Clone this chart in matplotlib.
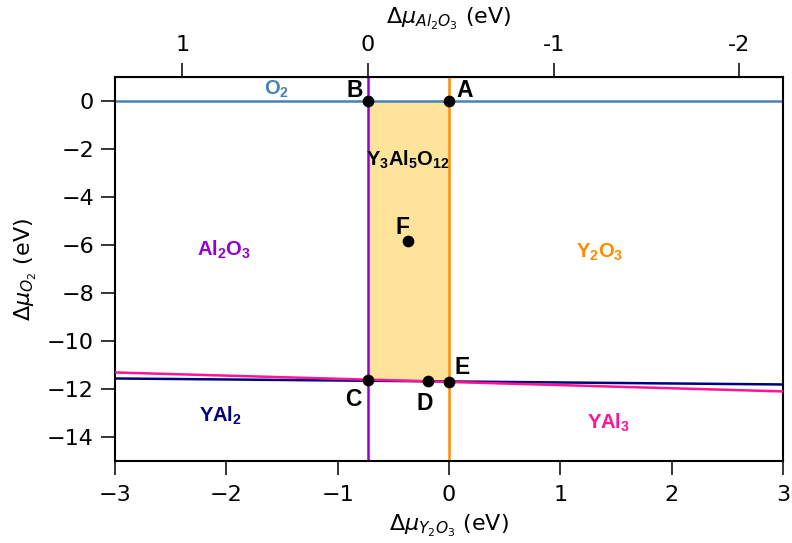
import numpy as np
import matplotlib
matplotlib.use("Agg")
import matplotlib.pyplot as plt

plt.rcParams['mathtext.fontset'] = 'custom'
plt.rcParams['mathtext.rm'] = 'Liberation Sans:bold'
plt.rcParams['mathtext.it'] = 'Liberation Sans:bold'
plt.rcParams['mathtext.bf'] = 'Liberation Sans:bold'

# ---- data ----
x_line = [-3.0, 3.0]
o2_line = [0.0, 0.0]
yal2_line = [-11.56, -11.81]
yal3_line = [-11.31, -12.10]
x_al2o3 = -0.727          # Al2O3 boundary (vertical)
x_y2o3 = 0.0              # Y2O3 boundary (vertical)
y_vert = [-15.0, 1.0]

pt_names = ['A', 'B', 'C', 'D', 'E', 'F']
pt_x = [0.0, -0.727, -0.727, -0.19, 0.0, -0.37]
pt_y = [0.0, 0.0, -11.62, -11.67, -11.70, -5.85]
pt_lab_x = [0.14, -0.85, -0.86, -0.22, 0.12, -0.42]
pt_lab_y = [0.45, 0.45, -12.45, -12.6, -11.1, -5.25]

region_x = [-0.727, 0.0, 0.0, -0.19, -0.727]
region_y = [0.0, 0.0, -11.70, -11.67, -11.62]

phase_labels = ['O$_2$', 'Al$_2$O$_3$', 'Y$_2$O$_3$', 'Y$_3$Al$_5$O$_{12}$', 'YAl$_2$', 'YAl$_3$']
phase_x = [-1.55, -2.02, 1.35, -0.37, -2.05, 1.43]
phase_y = [0.5, -6.2, -6.3, -2.45, -13.1, -13.4]
phase_col = ['#4682B4', '#9400D3', '#FF8C00', 'black', '#000080', '#FF1493']

xticks = [-3, -2, -1, 0, 1, 2, 3]
yticks = [0, -2, -4, -6, -8, -10, -12, -14]
top_ticks = [1, 0, -1, -2]

fig = plt.figure(figsize=(7.92, 5.43), dpi=100)
ax = fig.add_axes([0.145, 0.151, 0.8436, 0.707])

ax.fill(region_x, region_y, color='#FEE49B', zorder=1, lw=0)
ax.plot(x_line, o2_line, color='#4682B4', lw=1.8, zorder=2)
ax.plot([x_al2o3, x_al2o3], y_vert, color='#9400D3', lw=1.8, zorder=2)
ax.plot([x_y2o3, x_y2o3], y_vert, color='#FF8C00', lw=1.8, zorder=2)
ax.plot(x_line, yal2_line, color='#000080', lw=1.8, zorder=2)
ax.plot(x_line, yal3_line, color='#FF1493', lw=1.8, zorder=3)
ax.scatter(pt_x, pt_y, s=55, color='black', zorder=5)

for n, lx, ly in zip(pt_names, pt_lab_x, pt_lab_y):
    ax.text(lx, ly, n, fontsize=16.5, fontweight='bold', family='Liberation Sans',
            ha='center', va='center', zorder=6)
for t, lx, ly, c in zip(phase_labels, phase_x, phase_y, phase_col):
    ax.text(lx, ly, t, fontsize=14.5, color=c, ha='center', va='center',
            family='Liberation Sans', fontweight='bold', zorder=6)

ax.set_xlim(-3, 3)
ax.set_ylim(-15, 1)
ax.set_xticks(xticks)
ax.set_yticks(yticks)
ax.tick_params(labelsize=16, length=10, width=1.1, direction='out', pad=5)
ax.tick_params(axis='x', pad=7)
for s in ax.spines.values():
    s.set_linewidth(1.5)

ax.set_xlabel(r'$\Delta\mu_{Y_2O_3}$ (eV)', fontsize=16, math_fontfamily='dejavusans', labelpad=6)
ax.set_ylabel(r'$\Delta\mu_{O_2}$ (eV)', fontsize=16, math_fontfamily='dejavusans', labelpad=6)

x0 = x_al2o3
k = 5.0 / 3.0
sec = ax.secondary_xaxis('top', functions=(lambda x: (x0 - x) / k, lambda t: x0 - k * t))
sec.set_xticks(top_ticks)
sec.set_xticklabels([str(t) for t in top_ticks])
sec.tick_params(labelsize=16, length=10, width=1.1, direction='out', pad=6)
sec.set_xlabel(r'$\Delta\mu_{Al_2O_3}$ (eV)', fontsize=16, math_fontfamily='dejavusans', labelpad=8)

fig.savefig('out.png', dpi=100)
